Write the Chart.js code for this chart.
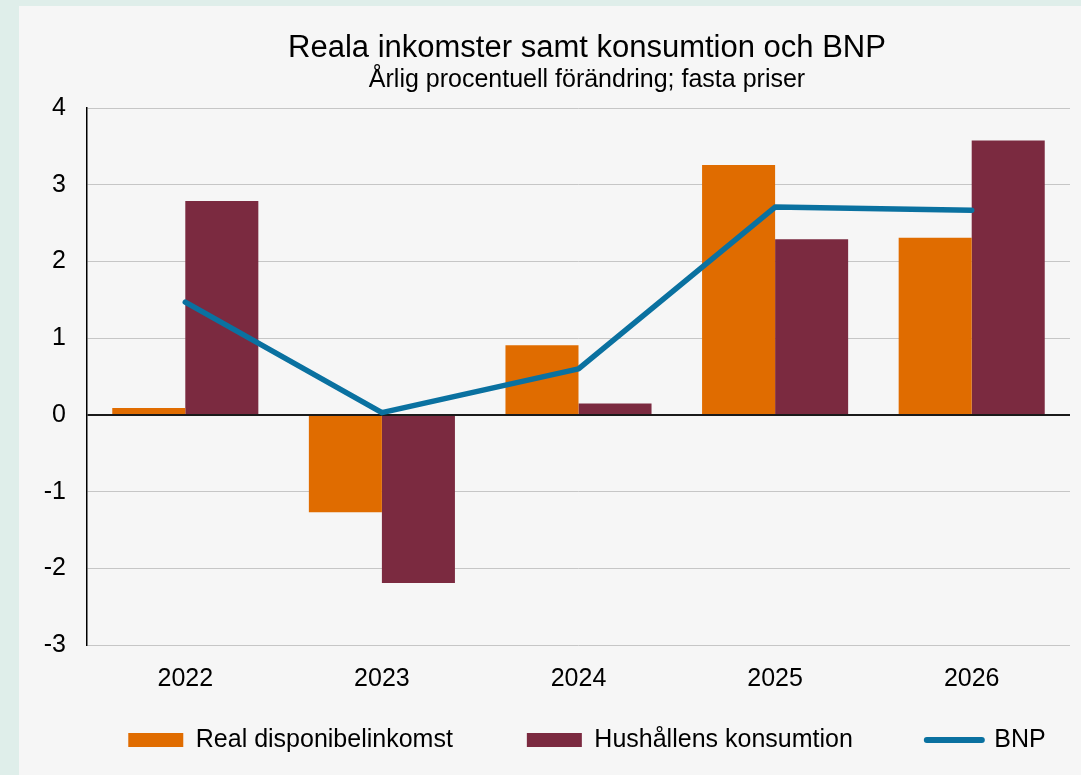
<!DOCTYPE html>
<html><head><meta charset="utf-8">
<script src="https://cdn.jsdelivr.net/npm/chart.js@4.4.1/dist/chart.umd.min.js"></script>
<style>
html,body{margin:0;padding:0;background:#dfeeea;width:1081px;height:775px;overflow:hidden}
#wrap{position:absolute;left:19px;top:6px;width:1062px;height:769px;background:#f6f6f6;overflow:visible}
canvas{display:block;position:absolute;left:0;top:0}
</style></head><body><div id="wrap"><canvas id="c" width="1136" height="769"></canvas></div>
<script>
const categories = ['2022', '2023', '2024', '2025', '2026'];
const realDisponibelinkomst = [0.09, -1.27, 0.91, 3.26, 2.31];
const hushallensKonsumtion = [2.79, -2.19, 0.15, 2.29, 3.58];
const bnp = [1.47, 0.03, 0.60, 2.71, 2.67];
const yMin = -3, yMax = 4, yStep = 1;
const titleText = 'Reala inkomster samt konsumtion och BNP';
const subtitleText = 'Årlig procentuell förändring; fasta priser';
const seriesLabels = ['Real disponibelinkomst', 'Hushållens konsumtion', 'BNP'];

const FONT = "'Liberation Sans', Arial, sans-serif";
const ORANGE = '#e06c00', MAROON = '#7b2a40', BLUE = '#0a71a0';
const LEGEND_PAD = 74, LEGEND_FONT = 25, LEGEND_CENTER_Y = 734;

// Keep the legend out of the layout stack and place its row at a fixed height
const legendPlacement = {
  id: 'legendPlacement',
  beforeLayout(chart) {
    const lg = chart.legend;
    if (lg && !lg.__patched) {
      const fit = lg.fit;
      lg.fit = function () { fit.call(this); this.__realHeight = this.height; this.height = 1; };
      lg.__patched = true;
    }
  },
  afterLayout(chart) {
    const lg = chart.legend;
    if (!lg) return;
    lg.top = LEGEND_CENTER_Y - LEGEND_PAD - LEGEND_FONT / 2;
    lg.height = lg.__realHeight || (LEGEND_PAD + LEGEND_FONT + 10);
    lg.bottom = lg.top + lg.height;
  }
};

new Chart(document.getElementById('c'), {
  data: {
    labels: categories,
    datasets: [
      { type: 'bar', label: seriesLabels[0], data: realDisponibelinkomst, backgroundColor: ORANGE,
        categoryPercentage: 0.743, barPercentage: 1, borderWidth: 0, order: 1 },
      { type: 'bar', label: seriesLabels[1], data: hushallensKonsumtion, backgroundColor: MAROON,
        categoryPercentage: 0.743, barPercentage: 1, borderWidth: 0, order: 1 },
      { type: 'line', label: seriesLabels[2], data: bnp, borderColor: BLUE, backgroundColor: BLUE,
        borderWidth: 5.5, pointRadius: 0, tension: 0, borderCapStyle: 'round', borderJoinStyle: 'round', order: 0 }
    ]
  },
  plugins: [legendPlacement],
  options: {
    responsive: false,
    animation: false,
    layout: { padding: { left: 0, right: 0, top: 24, bottom: 69 } },
    plugins: {
      tooltip: { enabled: false },
      title: { display: true, text: titleText, color: '#000',
        font: { family: FONT, size: 31, weight: 'normal' }, padding: { top: 0, bottom: -2 } },
      subtitle: { display: true, text: subtitleText, color: '#000',
        font: { family: FONT, size: 25, weight: 'normal' }, padding: { top: 0, bottom: 13 } },
      legend: {
        position: 'bottom',
        labels: {
          usePointStyle: true, pointStyleWidth: 55, boxHeight: 14, padding: LEGEND_PAD,
          color: '#000', font: { family: FONT, size: LEGEND_FONT },
          generateLabels(chart) {
            return chart.data.datasets.map((ds, i) => {
              const isLine = ds.type === 'line';
              return {
                text: ds.label,
                fillStyle: isLine ? ds.borderColor : ds.backgroundColor,
                strokeStyle: isLine ? ds.borderColor : ds.backgroundColor,
                lineWidth: isLine ? 6 : 0,
                lineCap: 'round',
                pointStyle: isLine ? 'line' : 'rect',
                hidden: false, datasetIndex: i, fontColor: '#000'
              };
            });
          }
        }
      }
    },
    scales: {
      x: {
        grid: { display: false },
        border: { display: false },
        ticks: { color: '#000', font: { family: FONT, size: 25 }, padding: 11, maxRotation: 0 },
        afterFit(scale) { scale.height = 60; }
      },
      y: {
        min: yMin, max: yMax,
        ticks: { stepSize: yStep, color: '#000', font: { family: FONT, size: 25 }, padding: 21 },
        grid: {
          drawTicks: false,
          color: c => (c.tick && c.tick.value === 0) ? '#1a1a1a' : '#c6c6c6',
          lineWidth: c => (c.tick && c.tick.value === 0) ? 2 : 1
        },
        border: { color: '#000', width: 1.5 },
        afterFit(scale) { scale.width = 68; }
      },
      yRight: {
        type: 'linear', position: 'right', min: yMin, max: yMax,
        ticks: { display: false }, grid: { display: false }, border: { display: false },
        afterFit(scale) { scale.width = 85; }
      }
    }
  }
});
</script>
</body></html>
